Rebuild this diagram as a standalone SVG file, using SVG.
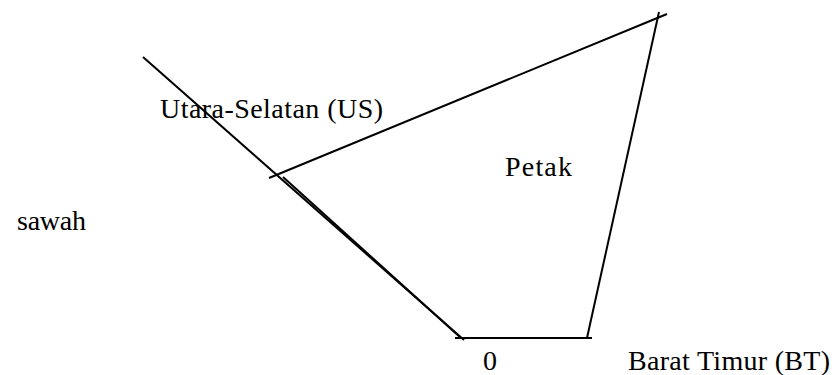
<svg xmlns="http://www.w3.org/2000/svg" width="832" height="375" viewBox="0 0 832 375">
<style>
.ln{stroke:#000;stroke-width:2;fill:none;stroke-linecap:butt}
.tx{font-family:"Liberation Serif","Times New Roman","DejaVu Serif",serif;font-size:28px;fill:#000}
</style>
<rect width="832" height="375" fill="#fff"/>
<g id="connectors">
<line class="ln" x1="143" y1="57" x2="464" y2="340"/>
<line class="ln" x1="283" y1="177" x2="461" y2="338"/>
<line class="ln" x1="269" y1="178" x2="667" y2="14"/>
<line class="ln" x1="659" y1="12" x2="587" y2="338"/>
<line class="ln" x1="455" y1="338" x2="592" y2="338"/>
</g>
<g id="label-us"><text class="tx" x="160" y="118" textLength="223">Utara-Selatan (US)</text></g>
<g id="label-petak"><text class="tx" x="505" y="176" textLength="67">Petak</text></g>
<g id="label-sawah"><text class="tx" x="17" y="230" textLength="69">sawah</text></g>
<g id="label-0"><text class="tx" x="483" y="370">0</text></g>
<g id="label-bt"><text class="tx" x="628" y="370" textLength="202">Barat Timur (BT)</text></g>
</svg>
